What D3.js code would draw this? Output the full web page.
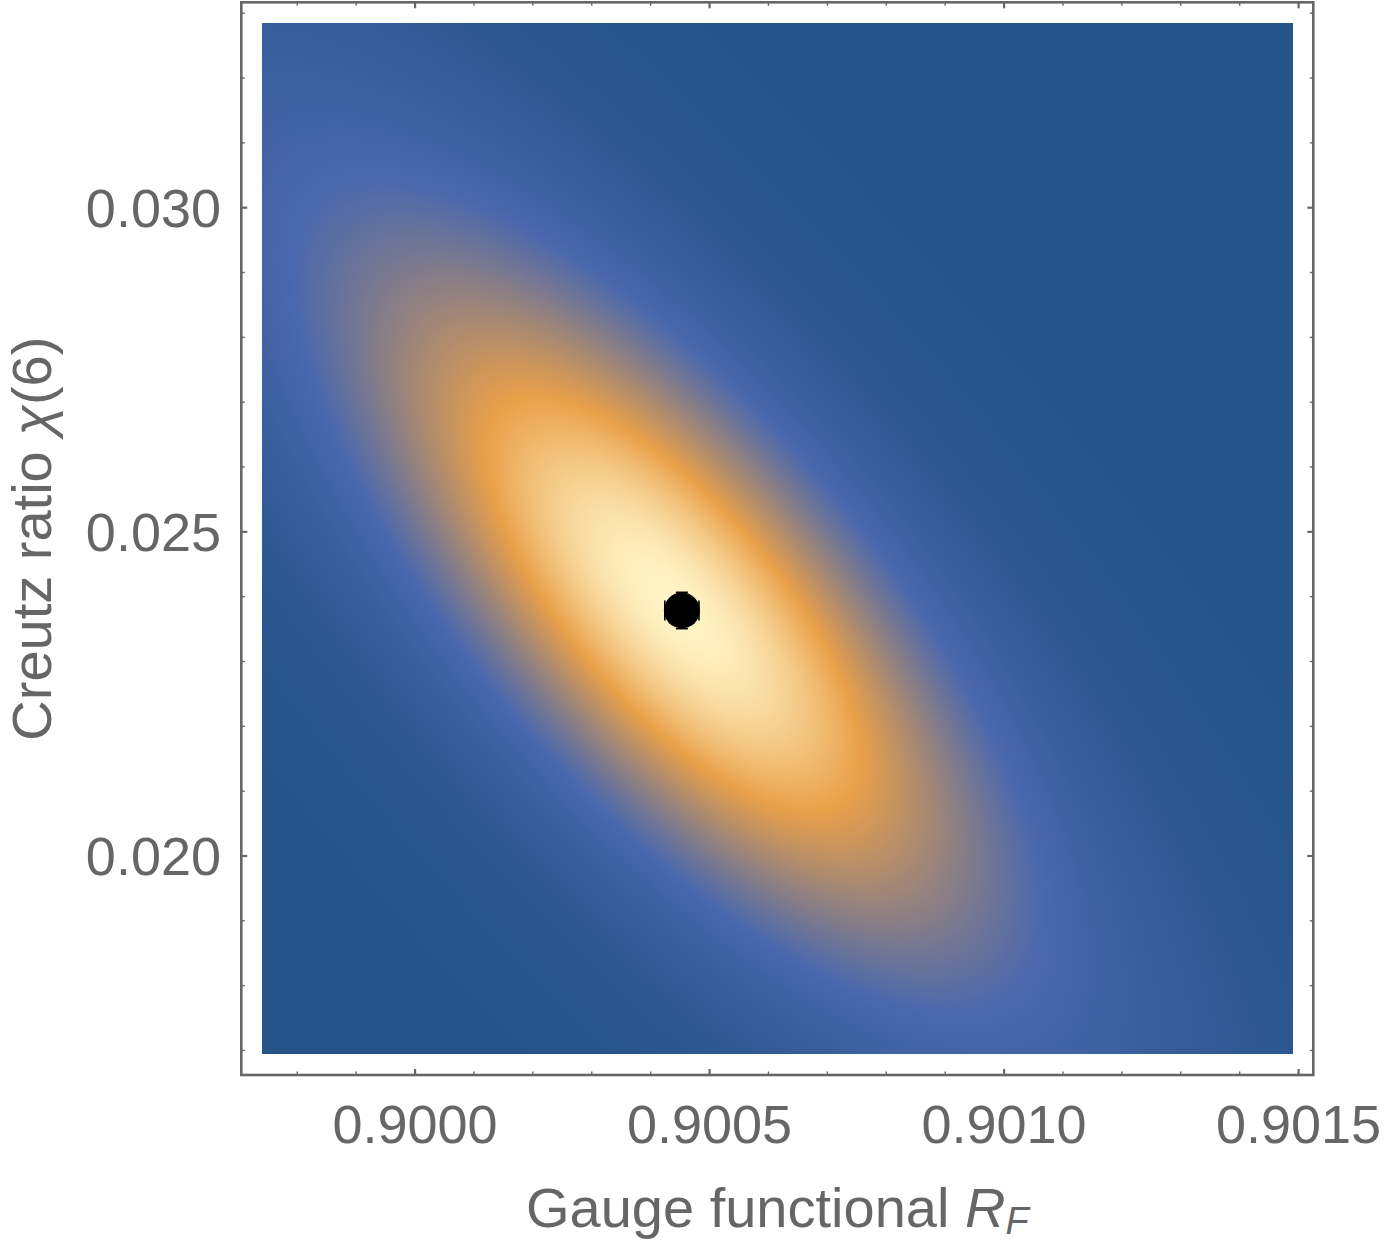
<!DOCTYPE html>
<html>
<head>
<meta charset="utf-8">
<script src="https://cdn.jsdelivr.net/npm/d3@7"></script>
<style>
  html, body { margin: 0; padding: 0; background: #ffffff; }
  svg { display: block; }
</style>
</head>
<body>
<div id="chart"></div>
<script>
// ---------- data ----------
const plotRangeX = [0.89974, 0.90149];     // Gauge functional R_F
const plotRangeY = [0.01694, 0.03285];     // Creutz ratio chi(6)
const xTickValues = [0.9000, 0.9005, 0.9010, 0.9015];
const yTickValues = [0.020, 0.025, 0.030];
const xMinorStep = [0.0001];
const yMinorStep = [0.001];
const bestFit = [0.900453, 0.023787];      // best-fit point (x, y)
const bestFitError = [0.000029, 0.00028];  // tiny error bars of the point
// likelihood surface, read as a core plus a broad halo
const componentWeight = [0.65, 0.35];
const componentCenterX = [0.900445, 0.900402];
const componentCenterY = [0.023787, 0.024327];
const componentSigmaX = [0.000322, 0.000587];
const componentSigmaY = [0.003225, 0.00600];
const componentRho = [-0.693, -0.842];
const colorStops = [0, 0.28, 0.70, 1];
const colorValues = ["#26538a", "#4a68ad", "#e9a049", "#fff4c6"];

// ---------- layout ----------
const W = 1389, H = 1243;
const frame = {left: 241.3, right: 1313.3, top: 2.3, bottom: 1075};
const pad = 0.02;
const gray = "#666666";
const font = "'Liberation Sans', Arial, Helvetica, sans-serif";

const dx = plotRangeX[1] - plotRangeX[0];
const dy = plotRangeY[1] - plotRangeY[0];
const x = d3.scaleLinear()
  .domain([plotRangeX[0] - pad * dx, plotRangeX[1] + pad * dx])
  .range([frame.left, frame.right]);
const y = d3.scaleLinear()
  .domain([plotRangeY[0] - pad * dy, plotRangeY[1] + pad * dy])
  .range([frame.bottom, frame.top]);
const color = d3.scaleLinear().domain(colorStops).range(colorValues)
  .interpolate(d3.interpolateRgb).clamp(true);

const svg = d3.select("#chart").append("svg")
  .attr("width", W).attr("height", H);

// ---------- density ----------
function density(xv, yv) {
  let s = 0;
  for (let c = 0; c < componentWeight.length; c++) {
    const u = (xv - componentCenterX[c]) / componentSigmaX[c];
    const v = (yv - componentCenterY[c]) / componentSigmaY[c];
    const r = componentRho[c];
    const q = (u * u - 2 * r * u * v + v * v) / (1 - r * r);
    s += componentWeight[c] * Math.exp(-q / 2);
  }
  return s;
}
const px0 = Math.round(x(plotRangeX[0])), px1 = Math.round(x(plotRangeX[1]));
const py0 = Math.round(y(plotRangeY[1])), py1 = Math.round(y(plotRangeY[0]));
const cw = px1 - px0, ch = py1 - py0;
const vals = new Float64Array(cw * ch);
let vmax = 0;
for (let j = 0; j < ch; j++) {
  const yv = y.invert(py0 + j + 0.5);
  for (let i = 0; i < cw; i++) {
    const v = density(x.invert(px0 + i + 0.5), yv);
    vals[j * cw + i] = v;
    if (v > vmax) vmax = v;
  }
}
const canvas = document.createElement("canvas");
canvas.width = cw; canvas.height = ch;
const ctx = canvas.getContext("2d");
const img = ctx.createImageData(cw, ch);
for (let p = 0; p < cw * ch; p++) {
  const c = d3.rgb(color(vals[p] / vmax));
  img.data[4 * p] = c.r; img.data[4 * p + 1] = c.g; img.data[4 * p + 2] = c.b; img.data[4 * p + 3] = 255;
}
ctx.putImageData(img, 0, 0);
svg.append("image")
  .attr("x", px0).attr("y", py0)
  .attr("width", cw).attr("height", ch)
  .attr("preserveAspectRatio", "none")
  .attr("href", canvas.toDataURL());

// ---------- best-fit point with error bars ----------
const bx = x(bestFit[0]), by = y(bestFit[1]);
const exl = x(bestFit[0] - bestFitError[0]), exr = x(bestFit[0] + bestFitError[0]);
const eyt = y(bestFit[1] + bestFitError[1]), eyb = y(bestFit[1] - bestFitError[1]);
const eg = svg.append("g").attr("stroke", "#000").attr("stroke-width", 1.6);
eg.append("line").attr("x1", exl).attr("x2", exr).attr("y1", by).attr("y2", by);
eg.append("line").attr("x1", bx).attr("x2", bx).attr("y1", eyt).attr("y2", eyb);
[exl, exr].forEach(v => eg.append("line").attr("x1", v).attr("x2", v).attr("y1", by - 10).attr("y2", by + 10));
[eyt, eyb].forEach(v => eg.append("line").attr("y1", v).attr("y2", v).attr("x1", bx - 6).attr("x2", bx + 6));
svg.append("circle")
  .attr("cx", bx).attr("cy", by)
  .attr("r", 18).attr("fill", "#000");

// ---------- frame ----------
svg.append("rect")
  .attr("x", frame.left).attr("y", frame.top)
  .attr("width", frame.right - frame.left).attr("height", frame.bottom - frame.top)
  .attr("fill", "none").attr("stroke", gray).attr("stroke-width", 2.6);

// ---------- ticks ----------
const xd = x.domain(), yd = y.domain();
const xMinor = d3.range(Math.ceil(xd[0] / xMinorStep[0] - 1e-6), Math.floor(xd[1] / xMinorStep[0] + 1e-6) + 1)
  .map(k => +(k * xMinorStep[0]).toFixed(6));
const yMinor = d3.range(Math.ceil(yd[0] / yMinorStep[0] - 1e-6), Math.floor(yd[1] / yMinorStep[0] + 1e-6) + 1)
  .map(k => +(k * yMinorStep[0]).toFixed(6));
const isMajor = (v, arr) => arr.some(t => Math.abs(t - v) < 1e-9);

const tickG = svg.append("g").attr("stroke", gray);
xMinor.forEach(v => {
  const L = isMajor(v, xTickValues) ? 6 : 3.5;
  const w = isMajor(v, xTickValues) ? 2.2 : 1.4;
  tickG.append("line").attr("x1", x(v)).attr("x2", x(v))
    .attr("y1", frame.bottom).attr("y2", frame.bottom - L).attr("stroke-width", w);
  tickG.append("line").attr("x1", x(v)).attr("x2", x(v))
    .attr("y1", frame.top).attr("y2", frame.top + L).attr("stroke-width", w);
});
yMinor.forEach(v => {
  const L = isMajor(v, yTickValues) ? 6 : 3.5;
  const w = isMajor(v, yTickValues) ? 2.2 : 1.4;
  tickG.append("line").attr("y1", y(v)).attr("y2", y(v))
    .attr("x1", frame.left).attr("x2", frame.left + L).attr("stroke-width", w);
  tickG.append("line").attr("y1", y(v)).attr("y2", y(v))
    .attr("x1", frame.right).attr("x2", frame.right - L).attr("stroke-width", w);
});

// ---------- tick labels ----------
svg.append("g").selectAll("text").data(xTickValues).join("text")
  .attr("x", d => x(d)).attr("y", 1143)
  .attr("text-anchor", "middle")
  .attr("font-family", font).attr("font-size", 54).attr("fill", gray)
  .text(d => d.toFixed(4));
svg.append("g").selectAll("text").data(yTickValues).join("text")
  .attr("x", 221).attr("y", d => y(d) + 19.5)
  .attr("text-anchor", "end")
  .attr("font-family", font).attr("font-size", 54).attr("fill", gray)
  .text(d => d.toFixed(3));

// ---------- axis labels ----------
const xl = svg.append("text")
  .attr("x", (frame.left + frame.right) / 2).attr("y", 1227)
  .attr("text-anchor", "middle")
  .attr("font-family", font).attr("font-size", 56).attr("fill", gray);
xl.append("tspan").text("Gauge functional ");
xl.append("tspan").attr("font-style", "italic").text("R");
xl.append("tspan").attr("font-style", "italic").attr("font-size", 38).attr("dy", 7).text("F");

const yl = svg.append("text")
  .attr("transform", `translate(51, ${(frame.top + frame.bottom) / 2}) rotate(-90)`)
  .attr("text-anchor", "middle")
  .attr("font-family", font).attr("font-size", 56).attr("fill", gray);
yl.append("tspan").text("Creutz ratio ");
yl.append("tspan").attr("font-style", "italic").text("χ");
yl.append("tspan").text("(6)");
</script>
</body>
</html>
